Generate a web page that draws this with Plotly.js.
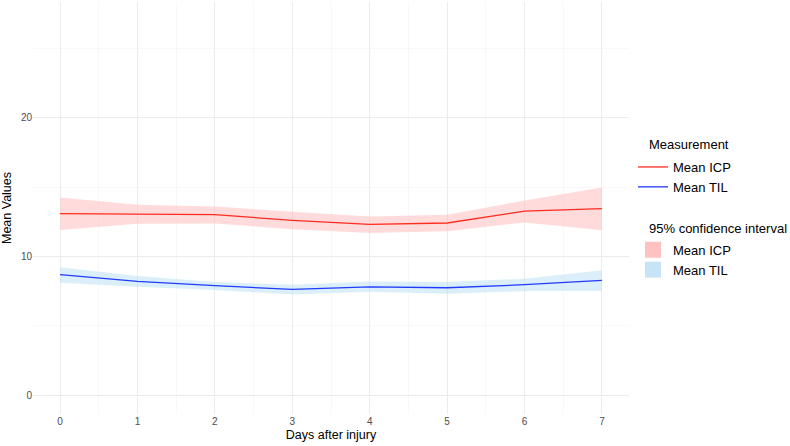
<!DOCTYPE html>
<html>
<head>
<meta charset="utf-8">
<script src="https://cdn.plot.ly/plotly-3.0.1.min.js"></script>
<style>html,body{margin:0;padding:0;background:#fff;}#chart{width:790px;height:446px;}</style>
</head>
<body>
<div id="chart"></div>
<script>
// Data
const days = [0, 1, 2, 3, 4, 5, 6, 7];
const icpMean  = [13.09, 13.06, 13.02, 12.61, 12.32, 12.42, 13.28, 13.45];
const icpUpper = [14.26, 13.73, 13.61, 13.23, 12.89, 13.01, 14.04, 14.98];
const icpLower = [11.92, 12.37, 12.39, 11.96, 11.70, 11.82, 12.46, 11.89];
const tilMean  = [8.69, 8.21, 7.90, 7.63, 7.82, 7.75, 7.97, 8.28];
const tilUpper = [9.23, 8.59, 8.16, 7.97, 8.21, 8.16, 8.40, 9.02];
const tilLower = [8.11, 7.82, 7.58, 7.27, 7.47, 7.32, 7.51, 7.51];
const yTicks = [0, 10, 20];
const seriesNames = ['Mean ICP', 'Mean TIL'];
const legendTitles = ['Measurement', '95% confidence interval'];

const lineColors = ['#FF2D1F', '#1F3BFF'];
const ribbonColors = ['rgba(255,190,190,0.55)', 'rgba(190,225,245,0.55)'];
const keyColors = ['#FFC2C0', '#C6E4F5'];

function ribbon(lower, upper, color) {
  return {
    x: days.concat(days.slice().reverse()),
    y: lower.concat(upper.slice().reverse()),
    type: 'scatter', mode: 'none', fill: 'toself', fillcolor: color,
    hoverinfo: 'skip', showlegend: false
  };
}

const traces = [
  ribbon(icpLower, icpUpper, ribbonColors[0]),
  ribbon(tilLower, tilUpper, ribbonColors[1]),
  { x: days, y: icpMean, type: 'scatter', mode: 'lines', name: seriesNames[0],
    line: {color: lineColors[0], width: 1.3}, legendgroup: 'm' },
  { x: days, y: tilMean, type: 'scatter', mode: 'lines', name: seriesNames[1],
    line: {color: lineColors[1], width: 1.3}, legendgroup: 'm' },
  { x: [null], y: [null], type: 'scatter', mode: 'markers', name: seriesNames[0],
    marker: {symbol: 'square', size: 17, color: keyColors[0]}, legendgroup: 'ci' },
  { x: [null], y: [null], type: 'scatter', mode: 'markers', name: seriesNames[1],
    marker: {symbol: 'square', size: 17, color: keyColors[1]}, legendgroup: 'ci' }
];

const plotL = 33, plotR = 161, plotT = 2, plotB = 32, W = 790, H = 446;
const px = v => (v - plotL) / (W - plotL - plotR);
const py = v => (H - plotB - v) / (H - plotT - plotB);

const layout = {
  width: W, height: H,
  margin: {l: plotL, r: plotR, t: plotT, b: plotB},
  paper_bgcolor: '#fff', plot_bgcolor: '#fff',
  font: {family: 'Liberation Sans, Arial, sans-serif', size: 13, color: '#000'},
  xaxis: {
    range: [-0.35, 7.35], tickvals: days, ticktext: days.map(String),
    showgrid: true, gridcolor: '#EBEBEB', gridwidth: 1,
    minor: {dtick: 0.5, tick0: 0, showgrid: true, gridcolor: '#F3F3F3', gridwidth: 0.6},
    zeroline: false, showline: false, ticks: '',
    tickfont: {size: 10, color: '#4D4D4D'},
    title: {text: 'Days after injury', font: {size: 12.5, color: '#000'}, standoff: 4}
  },
  yaxis: {
    range: [-1.35, 28.35], tickvals: yTicks, ticktext: yTicks.map(String),
    showgrid: true, gridcolor: '#EBEBEB', gridwidth: 1,
    minor: {dtick: 5, tick0: 0, showgrid: true, gridcolor: '#F3F3F3', gridwidth: 0.6},
    zeroline: false, showline: false, ticks: '',
    tickfont: {size: 10, color: '#4D4D4D'},
    title: {text: 'Mean Values', font: {size: 12.5, color: '#000'}, standoff: 6}
  },
  showlegend: true,
  legend: {
    xref: 'container', yref: 'container', x: 633 / W, y: 1 - 152 / H,
    xanchor: 'left', yanchor: 'top', font: {size: 13, color: '#000'},
    tracegroupgap: 43, itemwidth: 30, bgcolor: 'rgba(0,0,0,0)'
  },
  annotations: [
    { text: legendTitles[0], xref: 'paper', yref: 'paper', x: px(647), y: py(145),
      xanchor: 'left', yanchor: 'middle', showarrow: false, font: {size: 13, color: '#000'} },
    { text: legendTitles[1], xref: 'paper', yref: 'paper', x: px(647), y: py(228),
      xanchor: 'left', yanchor: 'middle', showarrow: false, font: {size: 13, color: '#000'} }
  ]
};

Plotly.newPlot('chart', traces, layout, {displayModeBar: false, staticPlot: true});
</script>
</body>
</html>
